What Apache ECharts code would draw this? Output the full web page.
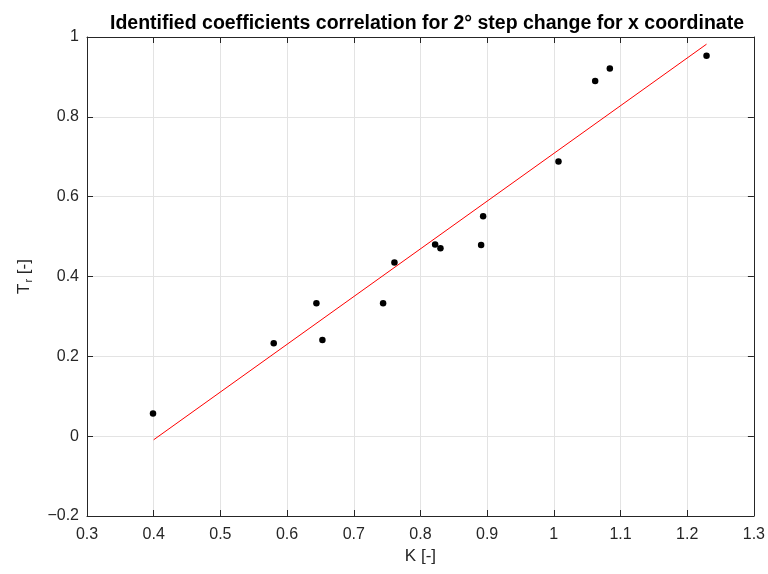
<!DOCTYPE html>
<html>
<head>
<meta charset="utf-8">
<script src="https://cdn.jsdelivr.net/npm/echarts@6/dist/echarts.min.js"></script>
<style>html,body{margin:0;padding:0;background:#fff}#c{width:768px;height:574px}</style>
</head>
<body>
<div id="c"></div>
<script>
var kValues = [0.399, 0.580, 0.644, 0.653, 0.744, 0.761, 0.822, 0.830, 0.891, 0.894, 1.007, 1.062, 1.084, 1.229];
var trValues = [0.057, 0.233, 0.333, 0.241, 0.333, 0.435, 0.480, 0.471, 0.479, 0.551, 0.688, 0.890, 0.921, 0.953];
var fitK = [0.4, 1.229];
var fitTr = [-0.009, 0.982];
var xTicks = [0.3, 0.4, 0.5, 0.6, 0.7, 0.8, 0.9, 1, 1.1, 1.2, 1.3];
var yTicks = [-0.2, 0, 0.2, 0.4, 0.6, 0.8, 1];

var points = kValues.map(function (k, i) { return [k, trValues[i]]; });
var fitLine = fitK.map(function (k, i) { return [k, fitTr[i]]; });

var axisColor = '#262626';
var font = 'Liberation Sans, Arial, Helvetica, sans-serif';
function fmt(v) {
  var r = Math.round(v * 10) / 10;
  return r < 0 ? '\u2212' + String(-r) : String(r);
}

var chart = echarts.init(document.getElementById('c'), null, { renderer: 'canvas' });
chart.setOption({
  animation: false,
  backgroundColor: '#fff',
  title: {
    text: 'Identified coefficients correlation for 2\u00b0 step change for x coordinate',
    left: 422, top: 9, textAlign: 'center',
    textStyle: { fontFamily: font, fontSize: 19.5, fontWeight: 'bold', color: '#000' }
  },
  grid: { left: 87, right: 13, top: 37, bottom: 58, containLabel: false },
  xAxis: [{
    type: 'value', min: 0.3, max: 1.3, interval: 0.1,
    name: 'K [-]', nameLocation: 'middle', nameGap: 24,
    nameTextStyle: { fontFamily: font, fontSize: 17, color: axisColor, verticalAlign: 'top' },
    axisLine: { show: true, onZero: false, lineStyle: { color: axisColor, width: 1 } },
    axisTick: { show: true, inside: true, length: 6, lineStyle: { color: axisColor } },
    axisLabel: { fontFamily: font, fontSize: 16, color: axisColor, margin: 11, formatter: fmt, showMinLabel: true, showMaxLabel: true },
    splitLine: { show: true, lineStyle: { color: '#e3e3e3', width: 1 } }
  }, {
    type: 'value', position: 'top', min: 0.3, max: 1.3, interval: 0.1,
    axisLine: { show: true, onZero: false, lineStyle: { color: axisColor, width: 1 } },
    axisTick: { show: true, inside: true, length: 6, lineStyle: { color: axisColor } },
    axisLabel: { show: false }, splitLine: { show: false }
  }],
  yAxis: [{
    type: 'value', min: -0.2, max: 1, interval: 0.2,
    name: '{n|T}{s|r}{n| [-]}', nameLocation: 'middle', nameGap: 53, nameRotate: 90,
    nameTextStyle: {
      rich: {
        n: { fontFamily: font, fontSize: 17, color: axisColor },
        s: { fontFamily: font, fontSize: 11, color: axisColor, verticalAlign: 'bottom', padding: [9, 0, 0, 1] }
      }
    },
    axisLine: { show: true, onZero: false, lineStyle: { color: axisColor, width: 1 } },
    axisTick: { show: true, inside: true, length: 6, lineStyle: { color: axisColor } },
    axisLabel: { fontFamily: font, fontSize: 16, color: axisColor, margin: 8, formatter: fmt, showMinLabel: true, showMaxLabel: true },
    splitLine: { show: true, lineStyle: { color: '#e3e3e3', width: 1 } }
  }, {
    type: 'value', position: 'right', min: -0.2, max: 1, interval: 0.2,
    axisLine: { show: true, onZero: false, lineStyle: { color: axisColor, width: 1 } },
    axisTick: { show: true, inside: true, length: 6, lineStyle: { color: axisColor } },
    axisLabel: { show: false }, splitLine: { show: false }
  }],
  series: [{
    type: 'line', data: fitLine, showSymbol: false, symbol: 'none',
    lineStyle: { color: '#ff0000', width: 1 }, z: 3
  }, {
    type: 'scatter', data: points, symbol: 'circle', symbolSize: 6.5,
    itemStyle: { color: '#000', opacity: 1 }, z: 4
  }]
});
</script>
</body>
</html>
